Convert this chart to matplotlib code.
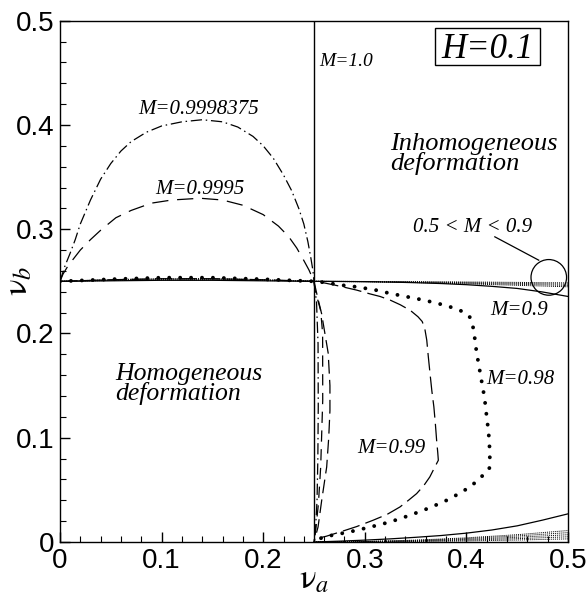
import matplotlib
matplotlib.use("Agg")
import matplotlib.pyplot as plt
from matplotlib.patches import Ellipse, Rectangle

plt.rcParams['mathtext.fontset'] = 'stix'

# ---- data ----
# M = 1.0 boundary
m1_x = [0.25, 0.25]
m1_y = [0.0, 0.5]

# M = 0.9998375 (dash-dot): upper hump, then branch down along nu_a = 0.25
m9998_up_x = [0.0, 0.002, 0.005, 0.010, 0.015, 0.020, 0.030, 0.040, 0.050, 0.060, 0.070, 0.085,
              0.100, 0.120, 0.140, 0.160, 0.175, 0.190, 0.200, 0.210, 0.220, 0.228, 0.235,
              0.240, 0.244, 0.247, 0.249, 0.25]
m9998_up_y = [0.25, 0.256, 0.265, 0.277, 0.290, 0.305, 0.328, 0.348, 0.363, 0.375, 0.384, 0.393,
              0.399, 0.403, 0.405, 0.403, 0.398, 0.389, 0.380, 0.368, 0.352, 0.337, 0.320,
              0.305, 0.288, 0.272, 0.260, 0.25]
m9998_dn_x = [0.25, 0.2525, 0.2540, 0.2542, 0.2538, 0.2530, 0.2515, 0.25]
m9998_dn_y = [0.25, 0.230, 0.190, 0.130, 0.080, 0.040, 0.012, 0.0]

# M = 0.9995 (dashed)
m9995_up_x = [0.0, 0.003, 0.008, 0.012, 0.020, 0.030, 0.040, 0.055, 0.070, 0.090, 0.110, 0.138,
              0.160, 0.180, 0.200, 0.215, 0.225, 0.233, 0.240, 0.245, 0.25]
m9995_up_y = [0.25, 0.257, 0.265, 0.270, 0.280, 0.290, 0.299, 0.311, 0.318, 0.325, 0.328, 0.3297,
              0.328, 0.323, 0.314, 0.303, 0.293, 0.282, 0.270, 0.261, 0.25]
m9995_dn_x = [0.25, 0.251, 0.2566, 0.2585, 0.2586, 0.2566, 0.2543, 0.2515, 0.25]
m9995_dn_y = [0.25, 0.2415, 0.222, 0.200, 0.136, 0.072, 0.036, 0.010, 0.0]

# unlabelled long-dash branch next to it
mB_x = [0.25, 0.2535, 0.2575, 0.264, 0.2657, 0.2657, 0.2645, 0.2625, 0.2576, 0.254, 0.25]
mB_y = [0.25, 0.235, 0.219, 0.181, 0.150, 0.126, 0.100, 0.072, 0.040, 0.0144, 0.0]

# M = 0.99 (dashed)
m99_x = [0.0, 0.05, 0.10, 0.15, 0.20, 0.25, 0.26, 0.27, 0.28, 0.292, 0.305, 0.315, 0.325, 0.335,
         0.345, 0.3524, 0.3565, 0.359, 0.361, 0.3625, 0.3642, 0.366, 0.368, 0.3695, 0.3707,
         0.3718, 0.3724, 0.369, 0.364, 0.358, 0.351, 0.343, 0.3346, 0.322, 0.308, 0.292,
         0.2756, 0.262, 0.251, 0.25]
m99_y = [0.25, 0.2515, 0.2525, 0.2525, 0.2515, 0.25, 0.2485, 0.2465, 0.2443, 0.2416, 0.238, 0.2355,
         0.232, 0.2275, 0.222, 0.216, 0.2115, 0.205, 0.1936, 0.178, 0.1617, 0.145, 0.1296, 0.113,
         0.0976, 0.086, 0.0784, 0.072, 0.0624, 0.054, 0.0464, 0.040, 0.0336, 0.0265, 0.0208,
         0.0148, 0.0096, 0.0055, 0.003, 0.0]

# M = 0.98 (thick dots)
m98_x = [0.0, 0.05, 0.10, 0.15, 0.20, 0.25, 0.256, 0.27, 0.28, 0.292, 0.31, 0.325, 0.34, 0.358,
         0.372, 0.384, 0.393, 0.400, 0.4035, 0.405, 0.407, 0.4085, 0.410, 0.412, 0.4143, 0.4166,
         0.4185, 0.420, 0.4215, 0.4225, 0.423, 0.4232, 0.421, 0.418, 0.411, 0.4035, 0.392,
         0.3806, 0.369, 0.3576, 0.341, 0.3248, 0.308, 0.292, 0.275, 0.259, 0.25]
m98_y = [0.25, 0.252, 0.2535, 0.2535, 0.252, 0.25, 0.2495, 0.2475, 0.246, 0.2447, 0.2418, 0.2384,
         0.2355, 0.232, 0.2288, 0.2255, 0.2225, 0.219, 0.2155, 0.2128, 0.204, 0.1936, 0.182,
         0.171, 0.158, 0.1456, 0.133, 0.120, 0.108, 0.0976, 0.085, 0.072, 0.068, 0.0656, 0.059,
         0.0528, 0.046, 0.040, 0.035, 0.0304, 0.0245, 0.0192, 0.015, 0.0112, 0.0078, 0.0048, 0.0]

# M = 0.9 (solid), three pieces
left_x = [0.0, 0.05, 0.10, 0.15, 0.20, 0.25]
m09_left_y = [0.25, 0.2505, 0.251, 0.251, 0.2505, 0.25]
right_x = [0.25, 0.275, 0.30, 0.325, 0.35, 0.375, 0.40, 0.425, 0.45, 0.475, 0.50]
m09_top_y = [0.25, 0.2499, 0.2497, 0.2493, 0.2487, 0.2479, 0.2468, 0.2452, 0.2432, 0.2398, 0.2355]
m09_bot_y = [0.0, 0.0008, 0.0018, 0.003, 0.0045, 0.0062, 0.0085, 0.0115, 0.0155, 0.021, 0.027]

# 0.5 < M < 0.9 family (fine dotted)
fam_x = [0.25, 0.30, 0.35, 0.40, 0.45, 0.50]
fam_left_y = [
    [0.25, 0.2508, 0.2514, 0.2514, 0.2508, 0.25],
    [0.25, 0.2512, 0.2520, 0.2520, 0.2512, 0.25],
    [0.25, 0.2516, 0.2527, 0.2527, 0.2516, 0.25],
]
fam_top_y = [
    [0.25, 0.2499, 0.2497, 0.2494, 0.2490, 0.2485],
    [0.25, 0.2498, 0.2494, 0.2488, 0.2481, 0.2473],
    [0.25, 0.2497, 0.2491, 0.2482, 0.2472, 0.2461],
    [0.25, 0.2496, 0.2488, 0.2476, 0.2462, 0.2448],
]
fam_bot_y = [
    [0.0, 0.0005, 0.0018, 0.0040, 0.0070, 0.0110],
    [0.0, 0.0004, 0.0015, 0.0033, 0.0058, 0.0090],
    [0.0, 0.0003, 0.0011, 0.0025, 0.0045, 0.0070],
    [0.0, 0.0002, 0.0008, 0.0018, 0.0032, 0.0050],
    [0.0, 0.0001, 0.0005, 0.0010, 0.0019, 0.0030],
]

xticks = [0, 0.1, 0.2, 0.3, 0.4, 0.5]
xtick_labels = ["0", "0.1", "0.2", "0.3", "0.4", "0.5"]
yticks = [0, 0.1, 0.2, 0.3, 0.4, 0.5]
ytick_labels = ["0", "0.1", "0.2", "0.3", "0.4", "0.5"]

# ---- figure ----
fig = plt.figure(figsize=(5.87, 5.96), dpi=100)
ax = fig.add_axes([0.1022, 0.0906, 0.8654, 0.8747])

k = dict(color='black', lw=0.9)
ax.plot(m1_x, m1_y, color='black', lw=1.0)

dashdot = (0, (9, 3, 1.2, 3))
ax.plot(m9998_up_x, m9998_up_y, linestyle=dashdot, **k)
ax.plot(m9998_dn_x, m9998_dn_y, linestyle=dashdot, **k)

ax.plot(m9995_up_x, m9995_up_y, linestyle=(0, (13, 7)), **k)
ax.plot(m9995_dn_x, m9995_dn_y, linestyle=(0, (9, 6)), **k)
ax.plot(mB_x, mB_y, linestyle=(0, (11, 5)), **k)

ax.plot(m99_x, m99_y, linestyle=(0, (14, 5)), **k)
ax.plot(m98_x, m98_y, color='black', lw=2.8, linestyle=(0, (0.01, 2.8)),
        dash_capstyle='round')

for y in fam_left_y:
    ax.plot(left_x, y, color='black', lw=0.7, linestyle=(0, (1, 1)))
for y in fam_top_y:
    ax.plot(fam_x, y, color='black', lw=0.7, linestyle=(0, (1, 1)))
for y in fam_bot_y:
    ax.plot(fam_x, y, color='black', lw=0.7, linestyle=(0, (1, 1)))

ax.plot(left_x, m09_left_y, **k)
ax.plot(right_x, m09_top_y, **k)
ax.plot(right_x, m09_bot_y, **k)

# circle marking the 0.5 < M < 0.9 family
ax.add_patch(Ellipse((0.4811, 0.2538), 0.035, 0.0342, fill=False, color='black', lw=0.9))
ax.plot([0.428, 0.4712], [0.2927, 0.2703], color='black', lw=0.9)

ax.set_xlim(0, 0.5)
ax.set_ylim(0, 0.5)

serif = dict(family='Liberation Serif', style='italic', color='black')
ax.text(0.255, 0.4607, "M=1.0", fontsize=14, ha='left', va='center', **serif)
ax.text(0.136, 0.415, "M=0.9998375", fontsize=15, ha='center', va='center', **serif)
ax.text(0.138, 0.338, "M=0.9995", fontsize=15, ha='center', va='center', **serif)
ax.text(0.452, 0.2224, "M=0.9", fontsize=15, ha='center', va='center', **serif)
ax.text(0.453, 0.156, "M=0.98", fontsize=15, ha='center', va='center', **serif)
ax.text(0.326, 0.090, "M=0.99", fontsize=15, ha='center', va='center', **serif)
ax.text(0.4065, 0.302, "0.5 < M < 0.9", fontsize=15, ha='center', va='center', **serif)
ax.text(0.325, 0.372, "Inhomogeneous\ndeformation", fontsize=19, ha='left', va='center',
        linespacing=0.85, **serif)
ax.text(0.054, 0.1513, "Homogeneous\ndeformation", fontsize=18.5, ha='left', va='center',
        linespacing=0.85, **serif)
ax.add_patch(Rectangle((0.369, 0.4575), 0.1034, 0.0355, fill=False, edgecolor='black', lw=1.0))
ax.text(0.4207, 0.4645, "H=0.1", fontsize=25, ha='center', va='baseline', **serif)

ax.set_xticks(xticks)
ax.set_xticklabels(xtick_labels)
ax.set_yticks(yticks)
ax.set_yticklabels(ytick_labels)
ax.set_xticks([i * 0.02 for i in range(26)], minor=True)
ax.set_yticks([i * 0.02 for i in range(26)], minor=True)
ax.tick_params(which='both', direction='in', top=False, right=False)
ax.tick_params(which='major', length=7, width=1.0, labelsize=20, pad=4)
ax.tick_params(which='minor', length=4, width=0.8)
for lab in ax.get_xticklabels() + ax.get_yticklabels():
    lab.set_family('Liberation Sans')

ax.set_xlabel(r'$\mathrm{\nu}_a$', fontsize=25)
ax.set_ylabel(r'$\mathrm{\nu}_b$', fontsize=25)
ax.xaxis.set_label_coords(0.5, -0.036)
ax.yaxis.set_label_coords(-0.05, 0.5)

for s in ax.spines.values():
    s.set_linewidth(1.0)

fig.savefig("out.png", dpi=100)
